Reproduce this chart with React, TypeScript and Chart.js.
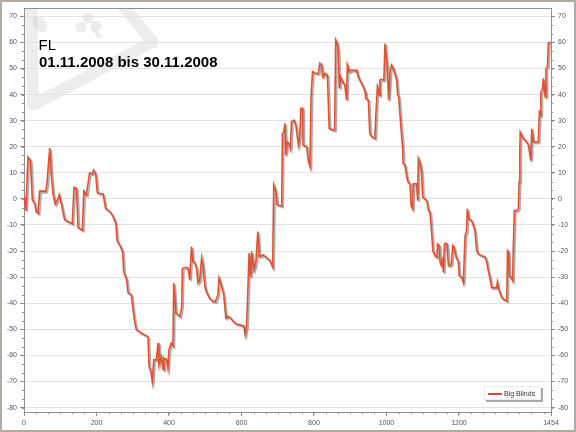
import React, { useEffect, useRef } from "react";
import { Chart, registerables } from "chart.js";

Chart.register(...registerables);

// ---- data ----
const handIdx = [
  0, 5, 11, 18, 23, 29, 34, 39, 43, 60,
  63, 71, 75, 80, 86, 94, 97, 103, 112, 126,
  133, 138, 145, 149, 161, 165, 172, 181, 189, 192,
  198, 202, 209, 218, 225, 237, 246, 253, 257, 266,
  272, 275, 283, 287, 296, 302, 306, 310, 318, 324,
  338, 342, 345, 350, 354, 358, 365, 370, 372, 379,
  384, 386, 393, 397, 400, 406, 411, 413, 419, 430,
  435, 437, 448, 453, 457, 462, 466, 471, 476, 480,
  485, 490, 494, 499, 503, 512, 521, 528, 535, 538,
  545, 551, 557, 563, 570, 577, 586, 596, 607, 610,
  614, 617, 621, 625, 628, 634, 640, 645, 649, 660,
  667, 678, 686, 689, 695, 698, 711, 713, 717, 720,
  722, 726, 732, 735, 738, 745, 750, 757, 761, 764,
  769, 770, 780, 784, 789, 792, 796, 805, 812, 816,
  821, 824, 830, 837, 842, 853, 857, 860, 864, 867,
  870, 873, 879, 885, 890, 892, 897, 904, 913, 918,
  922, 929, 936, 941, 943, 950, 954, 959, 968, 971,
  975, 977, 980, 982, 989, 993, 996, 999, 1002, 1006,
  1010, 1014, 1019, 1023, 1028, 1031, 1034, 1037, 1045, 1046,
  1051, 1056, 1060, 1065, 1068, 1072, 1074, 1083, 1086, 1088,
  1093, 1097, 1100, 1106, 1111, 1116, 1120, 1125, 1128, 1134,
  1139, 1141, 1146, 1148, 1152, 1155, 1157, 1160, 1164, 1167,
  1171, 1175, 1179, 1183, 1186, 1189, 1194, 1198, 1201, 1208,
  1212, 1214, 1217, 1221, 1223, 1227, 1235, 1240, 1244, 1249,
  1254, 1263, 1272, 1277, 1281, 1286, 1290, 1300, 1304, 1306,
  1309, 1313, 1318, 1323, 1332, 1334, 1337, 1339, 1343, 1348,
  1350, 1353, 1358, 1364, 1366, 1368, 1369, 1378, 1387, 1392,
  1398, 1401, 1405, 1415, 1419, 1422, 1424, 1426, 1430, 1433,
  1438, 1440, 1444, 1447, 1454,
];

const bigBlinds = [
  1, -4.5, 16, 14.5, -0.5, -1.5, -5, -5.5, 3, 3,
  5.5, 19.5, 10, 2, -2, 0, 1.5, -2, -8, -9,
  -9.5, 4.5, 4, -11, -12, 3, 1.5, 10, 9.5, 11,
  9.5, 2.5, 2, 2, -3.6, -4.9, -6.8, -9.3, -16, -18.3,
  -20.2, -27.9, -31, -36, -36.7, -43.8, -47.6, -50.2, -50.8, -51.5,
  -52.5, -52.8, -64.3, -66.2, -70, -61.7, -61.7, -55.3, -63.7, -60.4,
  -65.5, -61, -61.5, -64.9, -57.9, -55.3, -56.4, -32.3, -43.8, -45.1,
  -41.3, -26.6, -26.2, -26.6, -31, -18.3, -24, -24.5, -26.6, -32.3,
  -31, -22.7, -26, -33.6, -35.5, -38.1, -39.3, -39.3, -36.8, -30.4,
  -33.5, -36.8, -45.7, -45, -45.7, -47, -48, -48.3, -48.8, -52.1,
  -48.8, -37.4, -20.8, -29.8, -20.2, -27.2, -24, -12.5, -22.1, -21.5,
  -22.3, -23.6, -26.2, 5.3, 2.8, -2.3, -2.7, 25.1, 25.8, 29,
  16.8, 21.9, 21, 19.4, 29.6, 30.2, 28.3, 20.7, 24.5, 34.7,
  34.7, 20.7, 20, 14.9, 12.4, 39.2, 48.8, 48.1, 48.1, 52,
  51.5, 46.8, 48.1, 47.5, 27, 26.4, 26.4, 60.9, 59.6, 57.1,
  42.4, 46.8, 44.9, 43.7, 37.9, 51.3, 48.8, 49.4, 49.2, 49.4,
  46.8, 44.9, 43, 41.1, 38.5, 37.9, 25.1, 23.9, 23.2, 32.8,
  43, 42, 39.8, 45.6, 45.8, 45.6, 59.6, 54.5, 50.7, 37.9,
  48.8, 51.3, 50, 48.1, 45.6, 39.8, 39, 32.8, 18.6, 13.5,
  13, 8.3, 6.4, 5.8, -2.6, -3.8, 5.8, 5.8, -0.6, 15.4,
  13.5, 10.3, 0.6, 0, -0.6, -4.5, -5, -13.5, -19.9, -21.8,
  -22.4, -17.3, -17.9, -24.4, -25.6, -22.4, -28.2, -17.3, -17, -17.3,
  -25.6, -25.6, -25, -17.9, -18.5, -20.5, -23.1, -23.7, -29.5, -30.1,
  -32, -25, -14.1, -12.2, -3.8, -7.7, -8.3, -10.3, -12.2, -19.9,
  -21.2, -21.8, -22.2, -24.4, -27.6, -30.8, -34, -34, -34, -32,
  -34.5, -35.9, -37.8, -38.5, -39.1, -19.9, -20.5, -29.5, -30, -31.4,
  -18.6, -4.5, -4.5, -4, 6.4, 18, 25.6, 23.1, 21.8, 20.5,
  14.7, 26.9, 21.8, 21.8, 21.8, 34, 32, 41, 41.5, 46.2,
  39.1, 50, 50.5, 59.9, 59.9,
];

const xTickValues = [0, 200, 400, 600, 800, 1000, 1200, 1454];
const yTickValues = [-80, -70, -60, -50, -40, -30, -20, -10, 0, 10, 20, 30, 40, 50, 60, 70];
const seriesLabel = "Big Blinds";
const titleLine1 = "FL";
const titleLine2 = "01.11.2008 bis 30.11.2008";

const FONT = '"Liberation Sans", Arial, sans-serif';
const AXIS_COLOR = "#8f8f8f";

const watermarkPlugin = {
  id: "watermark",
  beforeDraw(chart: any) {
    const { ctx, chartArea: a } = chart;
    ctx.save();
    ctx.beginPath();
    ctx.rect(a.left, a.top, a.right - a.left, a.bottom - a.top);
    ctx.clip();
    ctx.strokeStyle = "rgba(0,0,0,0.07)";
    ctx.fillStyle = "rgba(0,0,0,0.07)";
    ctx.lineWidth = 12;
    ctx.lineJoin = "round";
    ctx.beginPath();
    ctx.moveTo(118, 0);
    ctx.lineTo(153, 42);
    ctx.lineTo(33, 105);
    ctx.lineTo(31, 0);
    ctx.stroke();
    // club symbol
    const lobes = [
      [88, 18, 5.5],
      [81, 27, 5.5],
      [96, 26, 5.5],
    ];
    for (const [cx, cy, r] of lobes) {
      ctx.beginPath();
      ctx.arc(cx, cy, r, 0, Math.PI * 2);
      ctx.fill();
    }
    ctx.beginPath();
    ctx.moveTo(89, 25);
    ctx.lineTo(104, 37);
    ctx.lineTo(98, 39);
    ctx.closePath();
    ctx.fill();
    // second symbol
    ctx.beginPath();
    ctx.ellipse(40, 24, 6, 9, -0.6, 0, Math.PI * 2);
    ctx.fill();
    ctx.restore();
  },
};

const shadowPlugin = {
  id: "lineShadow",
  beforeDatasetDraw(chart: any) {
    const c = chart.ctx;
    c.save();
    c.shadowColor = "rgba(80,80,80,0.55)";
    c.shadowOffsetX = 1.5;
    c.shadowOffsetY = 1.5;
    c.shadowBlur = 1;
  },
  afterDatasetDraw(chart: any) {
    chart.ctx.restore();
  },
};

const framePlugin = {
  id: "frameAndMinor",
  afterDraw(chart: any) {
    const { ctx, chartArea: a, scales } = chart;
    ctx.save();
    ctx.strokeStyle = AXIS_COLOR;
    ctx.lineWidth = 1;
    // top border
    ctx.beginPath();
    ctx.moveTo(a.left, Math.round(a.top) + 0.5);
    ctx.lineTo(a.right, Math.round(a.top) + 0.5);
    ctx.stroke();
    // minor ticks
    ctx.beginPath();
    const xs = scales.x;
    for (let i = 0; i * (200 / 6) <= 1454; i++) {
      const v = i * (200 / 6);
      const px = Math.round(xs.getPixelForValue(v)) + 0.5;
      ctx.moveTo(px, a.bottom);
      ctx.lineTo(px, a.bottom + 2);
    }
    const ys = scales.y;
    for (let i = 0; -80 + i * (10 / 3) <= 73; i++) {
      const v = -80 + i * (10 / 3);
      const py = Math.round(ys.getPixelForValue(v)) + 0.5;
      ctx.moveTo(a.left - 2, py);
      ctx.lineTo(a.left, py);
      ctx.moveTo(a.right, py);
      ctx.lineTo(a.right + 2, py);
    }
    ctx.stroke();
    ctx.restore();
  },
};

export default function App() {
  const canvasRef = useRef<HTMLCanvasElement>(null);

  useEffect(() => {
    const canvas = canvasRef.current;
    if (!canvas) return;
    const tickFont = { size: 7, family: FONT };
    const yTicks = (s: any) => {
      s.ticks = yTickValues.map((v) => ({ value: v }));
    };
    const chart = new Chart(canvas, {
      type: "line",
      data: {
        datasets: [
          {
            label: seriesLabel,
            data: handIdx.map((x, i) => ({ x, y: bigBlinds[i] })),
            borderColor: "#e4502e",
            borderWidth: 1.6,
            pointRadius: 0,
            tension: 0,
            fill: false,
            xAxisID: "x",
            yAxisID: "y",
          },
        ],
      },
      options: {
        animation: false,
        responsive: true,
        maintainAspectRatio: false,
        layout: { padding: { top: 8, left: 0, right: 0, bottom: 0 } },
        plugins: {
          legend: { display: false },
          tooltip: { enabled: false },
          title: { display: false },
        },
        scales: {
          x: {
            type: "linear",
            min: 0,
            max: 1454,
            afterBuildTicks: (s: any) => {
              s.ticks = xTickValues.map((v) => ({ value: v }));
            },
            afterFit: (s: any) => {
              s.height = 20;
            },
            ticks: {
              autoSkip: false,
              maxRotation: 0,
              font: tickFont,
              color: "#555",
              padding: 3,
              callback: (v: any) => String(v),
            },
            grid: {
              drawOnChartArea: false,
              drawTicks: true,
              tickLength: 4,
              tickColor: AXIS_COLOR,
            },
            border: { color: AXIS_COLOR },
          },
          y: {
            type: "linear",
            position: "left",
            min: -81.7,
            max: 73.2,
            afterBuildTicks: yTicks,
            afterFit: (s: any) => {
              s.width = 24;
            },
            ticks: {
              font: tickFont,
              color: "#555",
              padding: 3,
              callback: (v: any) => String(v),
            },
            grid: {
              color: "#e2e2e2",
              tickColor: AXIS_COLOR,
              tickLength: 4,
            },
            border: { color: AXIS_COLOR },
          },
          y2: {
            type: "linear",
            position: "right",
            min: -81.7,
            max: 73.2,
            afterBuildTicks: yTicks,
            afterFit: (s: any) => {
              s.width = 25;
            },
            ticks: {
              font: tickFont,
              color: "#555",
              padding: 3,
              callback: (v: any) => String(v),
            },
            grid: {
              drawOnChartArea: false,
              tickColor: AXIS_COLOR,
              tickLength: 4,
            },
            border: { color: AXIS_COLOR },
          },
        },
      },
      plugins: [watermarkPlugin, shadowPlugin, framePlugin],
    } as any);
    return () => chart.destroy();
  }, []);

  return (
    <div
      style={{
        position: "fixed",
        left: 0,
        top: 0,
        width: 576,
        height: 432,
        background: "#ffffff",
        overflow: "hidden",
      }}
    >
      <canvas ref={canvasRef} />
      <div
        style={{
          position: "absolute",
          left: 38.5,
          top: 35.6,
          font: `15px ${FONT}`,
          lineHeight: "17px",
          color: "#000",
          whiteSpace: "nowrap",
        }}
      >
        {titleLine1}
      </div>
      <div
        style={{
          position: "absolute",
          left: 39,
          top: 53,
          font: `bold 15px ${FONT}`,
          lineHeight: "17px",
          color: "#000",
          whiteSpace: "nowrap",
        }}
      >
        {titleLine2}
      </div>
      <div
        style={{
          position: "absolute",
          left: 484,
          top: 386,
          width: 57,
          height: 14,
          background: "#fff",
          border: "1px solid #ececec",
          boxShadow: "2px 2px 0 #a8a8a8",
          boxSizing: "border-box",
        }}
      >
        <div
          style={{
            position: "absolute",
            left: 3,
            top: 6,
            width: 14,
            height: 1.5,
            background: "#cf4b3e",
          }}
        />
        <span
          style={{
            position: "absolute",
            left: 19,
            top: 2.5,
            font: `7px ${FONT}`,
            lineHeight: "8px",
            color: "#333",
            whiteSpace: "nowrap",
          }}
        >
          {seriesLabel}
        </span>
      </div>
      <div
        style={{
          position: "absolute",
          left: 0,
          top: 0,
          width: 576,
          height: 432,
          border: "2px solid #b2aba3",
          boxSizing: "border-box",
          pointerEvents: "none",
        }}
      />
    </div>
  );
}
